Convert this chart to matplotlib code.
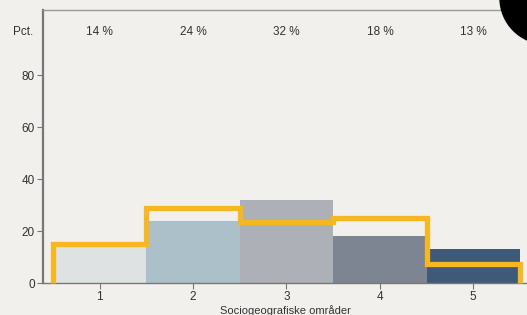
import matplotlib
matplotlib.use("Agg")
import matplotlib.pyplot as plt
import matplotlib.patches as mpatches
import numpy as np

categories = ["1", "2", "3", "4", "5"]
bar_values = [14, 24, 32, 18, 13]
line_values = [15, 29, 23.5, 25, 7.5]
top_labels = ["14 %", "24 %", "32 %", "18 %", "13 %"]
bar_colors = ["#dfe2e3", "#abc0c8", "#adb0b7", "#7c8591", "#3e5a78"]
yticks = [0, 20, 40, 60, 80]

plt.rcParams["font.family"] = ["Liberation Sans", "DejaVu Sans"]

bg = "#f2f0ed"
axis_col = "#777777"
text_col = "#333333"

fig = plt.figure(figsize=(5.27, 3.15), dpi=100, facecolor=bg)
ax = fig.add_axes([43/527, 1-283/315, 1-43/527, (283-10)/315])
ax.set_facecolor(bg)

x = np.arange(1, len(categories) + 1)
ax.bar(x, bar_values, width=1.0, color=bar_colors, linewidth=0, zorder=2)

edges = np.concatenate([x - 0.5, [x[-1] + 0.5]])
lx = [edges[0]]
ly = [0]
for i, v in enumerate(line_values):
    lx += [edges[i], edges[i + 1]]
    ly += [v, v]
lx.append(edges[-1])
ly.append(0)
ax.plot(lx, ly, color="#f5b823", lw=3.8, solid_joinstyle="miter",
        solid_capstyle="butt", zorder=3, clip_on=False)

ax.set_xlim(0.393, 5.575)
ax.set_ylim(0, 105)
ax.set_xticks(x)
ax.set_xticklabels(categories)
ax.set_yticks(yticks)

ax.spines["right"].set_visible(False)
ax.spines["left"].set_color(axis_col)
ax.spines["left"].set_linewidth(1.6)
ax.spines["bottom"].set_color(axis_col)
ax.spines["bottom"].set_linewidth(1.0)
ax.spines["top"].set_color("#999999")
ax.spines["top"].set_linewidth(1.0)

ax.tick_params(axis="both", colors=axis_col, labelcolor=text_col, labelsize=8.5,
               length=4, width=0.8, pad=2)

for xi, lab in zip(x, top_labels):
    ax.text(xi, 96.5, lab, ha="center", va="center", fontsize=8.5, color=text_col)
ax.text(-0.02, 96.5, "Pct.", transform=ax.get_yaxis_transform(), ha="right",
        va="center", fontsize=8.5, color=text_col)

ax.set_xlabel("Sociogeografiske områder", fontsize=8, color=text_col, labelpad=1)

fig.add_artist(mpatches.Circle((546, 317), 46, transform=None, color="black",
                               zorder=10))

fig.savefig("out.png", dpi=100, facecolor=bg)
